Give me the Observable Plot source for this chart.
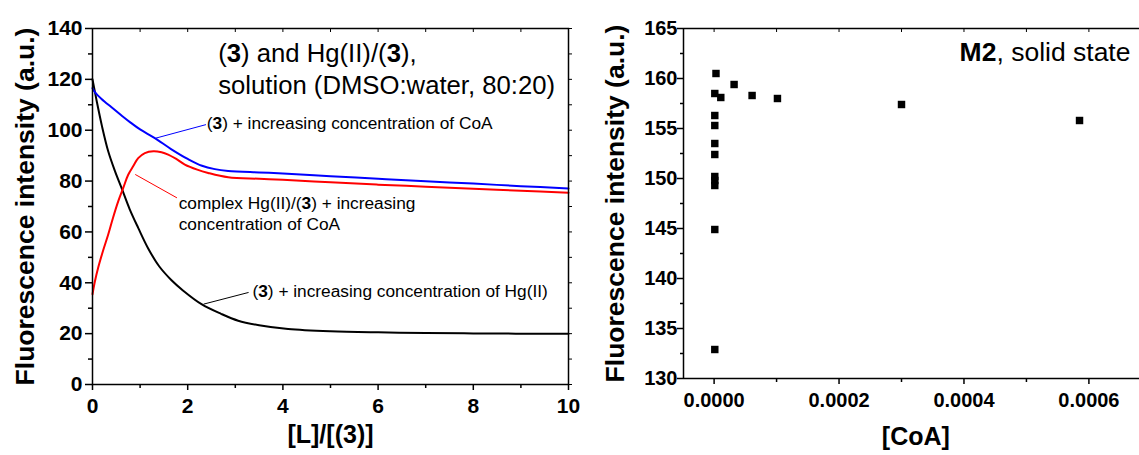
<!DOCTYPE html>
<html>
<head>
<meta charset="utf-8">
<script src="https://cdn.jsdelivr.net/npm/d3@7"></script>
<script src="https://cdn.jsdelivr.net/npm/@observablehq/plot@0.6"></script>
<style>
  html, body { margin: 0; padding: 0; background: #fff; overflow: hidden; }
  #wrap { position: relative; width: 1139px; height: 455px; }
  #left { position: absolute; left: 0; top: 0; }
  #right { position: absolute; left: 590px; top: 0; }
  svg { overflow: visible; }
</style>
</head>
<body>
<div id="wrap"><div id="left"></div><div id="right"></div></div>
<script>
// ---------- Left panel data: [L]/[(3)] vs fluorescence intensity ----------
const hgX   = [0, 0.09, 0.2, 0.33, 0.47, 0.61, 0.78, 0.96, 1.17, 1.4, 1.66, 1.9, 2.29, 2.7, 3.06, 3.5, 4.11, 5, 6, 7, 8, 9, 10];
const hgY   = [120, 111.3, 101.5, 91.7, 84, 77.3, 69, 61.6, 53.5, 46.5, 41, 37, 31.6, 27.8, 25.1, 23.3, 21.8, 20.9, 20.5, 20.3, 20.1, 20.0, 20.0];
const cplxX = [0, 0.05, 0.12, 0.22, 0.33, 0.43, 0.54, 0.65, 0.75, 0.86, 0.96, 1.1, 1.28, 1.45, 1.59, 1.75, 1.94, 2.2, 2.43, 2.85, 3.5, 4, 5, 6, 7, 8, 9, 10];
const cplxY = [35.5, 40.5, 46, 52.5, 59, 65.5, 72, 77.5, 82.5, 86, 89, 91, 91.7, 91.3, 90.4, 88.8, 86.5, 84.5, 83.2, 81.5, 80.9, 80.5, 79.5, 78.6, 77.8, 77, 76.2, 75.4];
const coaX  = [0, 0.05, 0.19, 0.4, 0.61, 0.8, 1.0, 1.31, 1.65, 2.01, 2.3, 2.57, 2.85, 3.5, 4, 5, 6, 7, 8, 9, 10];
const coaY  = [116.5, 115, 112.3, 109, 105.8, 103, 100.3, 96.9, 92.6, 88.6, 86.0, 84.7, 84.0, 83.4, 83, 81.9, 80.9, 79.9, 79, 78, 77.1];

const leftXTicks = [0, 2, 4, 6, 8, 10];
const leftXMinor = [1, 3, 5, 7, 9];
const leftYTicks = [0, 20, 40, 60, 80, 100, 120, 140];
const leftYMinor = [10, 30, 50, 70, 90, 110, 130];

// ---------- Right panel data: [CoA] vs fluorescence intensity (M2, solid state) ----------
const m2CoA = [0.000003, 0.0000011, 0.0000107, 0.000032, 0.0000608, 0.0001014, 0.0003, 0.000585,
               0.0000011, 0.0000011, 0.0000011, 0.0000011, 0.0000011, 0.0000011, 0.0000011, 0.0000011, 0.0000011];
const m2I   = [160.5, 158.5, 158.1, 159.4, 158.3, 158.0, 157.4, 155.8,
               156.3, 155.3, 153.5, 152.4, 150.2, 149.8, 149.3, 144.9, 132.9];

const rightXTicks = [0, 0.0002, 0.0004, 0.0006];
const rightXMinor = [0.0001, 0.0003, 0.0005];
const rightYTicks = [130, 135, 140, 145, 150, 155, 160, 165];
const rightYMinor = [132.5, 137.5, 142.5, 147.5, 152.5, 157.5, 162.5];

// ---------- Texts ----------
const yTitle = "Fluorescence intensity (a.u.)";
const leftXTitle = "[L]/[(3)]";
const rightXTitle = "[CoA]";
const panelTitle = "(3) and Hg(II)/(3),\nsolution (DMSO:water, 80:20)";
const labels = [
  {x: 2.40, y: 102.6, text: "(3) + increasing concentration of CoA", lx1: 1.333, ly1: 96.9, lx2: 2.384, ly2: 102.2, c: "#0000ff", anchor: "middle"},
  {x: 1.81, y: 75.2, text: "complex Hg(II)/(3) + increasing\nconcentration of CoA", lx1: 0.898, ly1: 82.6, lx2: 1.774, ly2: 73.4, c: "#ff0000", anchor: "top"},
  {x: 3.36, y: 36.5, text: "(3) + increasing concentration of Hg(II)", lx1: 2.333, ly1: 31.6, lx2: 3.279, ly2: 36.2, c: "#000000", anchor: "middle"}
];
const m2Label = "M2, solid state";

const font = "'Liberation Sans', Arial, Helvetica, sans-serif";

const toRows = (xs, ys) => xs.map((x, i) => ({x, y: ys[i]}));

const left = Plot.plot({
  width: 580, height: 455,
  marginLeft: 92, marginRight: 12, marginTop: 28, marginBottom: 71,
  style: {fontFamily: font, fontWeight: "bold", fontSize: "21px", color: "#000", background: "#fff"},
  x: {domain: [0, 10]},
  y: {domain: [0, 140]},
  marks: [
    Plot.line(toRows(hgX, hgY), {x: "x", y: "y", stroke: "#000000", strokeWidth: 2, curve: "catmull-rom"}),
    Plot.line(toRows(cplxX, cplxY), {x: "x", y: "y", stroke: "#ff0000", strokeWidth: 2, curve: "catmull-rom"}),
    Plot.line(toRows(coaX, coaY), {x: "x", y: "y", stroke: "#0000ff", strokeWidth: 2, curve: "catmull-rom"}),
    Plot.link(labels, {x1: "lx1", y1: "ly1", x2: "lx2", y2: "ly2", stroke: "c", strokeWidth: 1}),
    Plot.text(labels.filter(d => d.anchor === "middle"), {x: "x", y: "y", text: "text", textAnchor: "start", fontWeight: "normal", fontSize: 17.3, fill: "#000"}),
    Plot.text(labels.filter(d => d.anchor === "top"), {x: "x", y: "y", text: "text", textAnchor: "start", lineAnchor: "top", lineHeight: 1.25, fontWeight: "normal", fontSize: 17.3, fill: "#000"}),
    Plot.text([panelTitle], {x: 2.64, y: 135.8, text: d => d, textAnchor: "start", lineAnchor: "top", lineHeight: 1.25, fontWeight: "normal", fontSize: 25.7, fill: "#000"}),
    Plot.frame({stroke: "#000", strokeWidth: 1.5}),
    Plot.axisX({ticks: leftXTicks, tickSize: 6, tickPadding: 8, strokeWidth: 1.5, label: null, fontSize: 21}),
    Plot.axisX(leftXMinor, {tickSize: 4, strokeWidth: 1.5, tickFormat: () => "", label: null}),
    Plot.axisX(leftXTicks.concat(leftXMinor), {anchor: "top", tickSize: -3, strokeWidth: 1, tickFormat: () => "", label: null}),
    Plot.axisY({ticks: leftYTicks, tickSize: 7, tickPadding: 3, strokeWidth: 1.5, label: null, fontSize: 21}),
    Plot.axisY(leftYMinor, {tickSize: 4, strokeWidth: 1.5, tickFormat: () => "", label: null}),
    Plot.axisY(leftYTicks.concat(leftYMinor), {anchor: "right", tickSize: 3, strokeWidth: 1, tickFormat: () => "", label: null}),
    Plot.text([yTitle], {frameAnchor: "left", textAnchor: "middle", dx: -67, rotate: -90, text: d => d, fontSize: 26.5, fontWeight: "bold", fill: "#000"}),
    Plot.text([leftXTitle], {frameAnchor: "bottom", dy: 58, text: d => d, fontSize: 25, fontWeight: "bold", fill: "#000"})
  ]
});

const right = Plot.plot({
  width: 549, height: 455,
  marginLeft: 93, marginRight: 0, marginTop: 28, marginBottom: 77,
  style: {fontFamily: font, fontWeight: "bold", fontSize: "20px", color: "#000", background: "#fff"},
  x: {domain: [-0.000049, 0.000681]},
  y: {domain: [130, 165]},
  marks: [
    Plot.dot(toRows(m2CoA, m2I), {x: "x", y: "y", symbol: "square", r: 4.2, fill: "#000", stroke: null}),
    Plot.text([m2Label], {x: 0.000393, y: 162.6, text: d => d, textAnchor: "start", fontWeight: "normal", fontSize: 26.5, fill: "#000"}),
    Plot.ruleY([165], {stroke: "#000", strokeWidth: 1.5}),
    Plot.ruleY([130], {stroke: "#000", strokeWidth: 1.5}),
    Plot.ruleX([-0.000049], {stroke: "#000", strokeWidth: 1.5}),
    Plot.axisX({ticks: rightXTicks, tickSize: 6, tickPadding: 8, strokeWidth: 1.5, tickFormat: d3.format(".4f"), label: null, fontSize: 20}),
    Plot.axisX(rightXMinor, {tickSize: 4, strokeWidth: 1.5, tickFormat: () => "", label: null}),
    Plot.axisX(rightXTicks.concat(rightXMinor), {anchor: "top", tickSize: -3, strokeWidth: 1, tickFormat: () => "", label: null}),
    Plot.axisY({ticks: rightYTicks, tickSize: 6, tickPadding: 0, strokeWidth: 1.5, label: null, fontSize: 20}),
    Plot.axisY(rightYMinor, {tickSize: 3, strokeWidth: 1.5, tickFormat: () => "", label: null}),
    Plot.text([yTitle], {frameAnchor: "left", textAnchor: "middle", dx: -68, rotate: -90, text: d => d, fontSize: 26.5, fontWeight: "bold", fill: "#000"}),
    Plot.text([rightXTitle], {x: 0.000323, frameAnchor: "bottom", dy: 66, text: d => d, fontSize: 25, fontWeight: "bold", fill: "#000"})
  ]
});

// Bold the compound number "3" and "M2" inside normal-weight texts
function boldify(svg) {
  svg.querySelectorAll("text, tspan").forEach(el => {
    if (el.children.length) return;
    const t = el.textContent;
    if (t.includes("(3)")) {
      el.innerHTML = t.replace(/&/g, "&amp;").replace(/</g, "&lt;").replace(/\(3\)/g, '(<tspan font-weight="bold">3</tspan>)');
    } else if (t.startsWith("M2,")) {
      el.innerHTML = '<tspan font-weight="bold">M2</tspan>' + t.slice(2);
    }
  });
}
boldify(left);
boldify(right);

document.getElementById("left").appendChild(left);
document.getElementById("right").appendChild(right);
</script>
</body>
</html>
